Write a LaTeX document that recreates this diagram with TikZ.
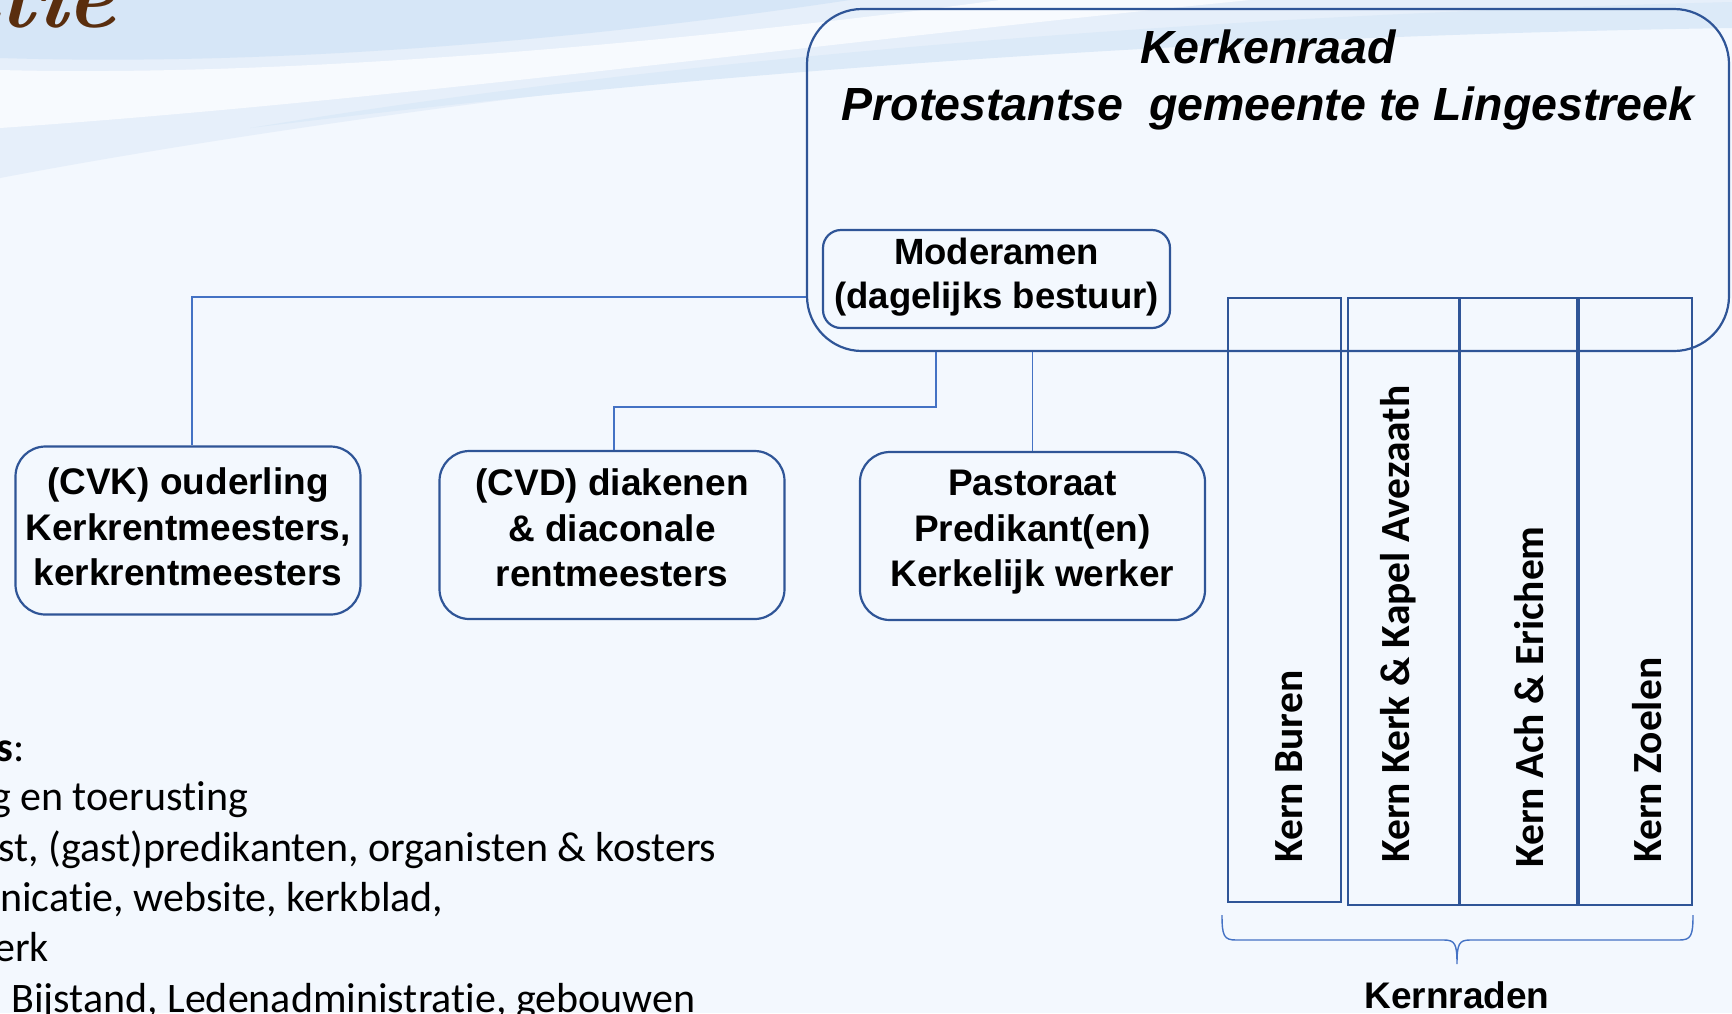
\documentclass[tikz,border=0pt]{standalone}
\usepackage{fontspec}
\newfontfamily\arialfont{Liberation Sans}
\newfontfamily\carlito[Ligatures=NoCommon]{Carlito}
\usepackage{tikz}
\usetikzlibrary{positioning}
\definecolor{randblauw}{HTML}{2F5597}
\definecolor{lijnblauw}{HTML}{4472C4}
\definecolor{achtergrond}{HTML}{F3F8FE}
\definecolor{golflicht}{HTML}{E6EFFA}
\definecolor{golfblauw}{HTML}{D6E6F7}
\definecolor{titelbruin}{HTML}{5A2E0E}

\tikzset{
  orgbox/.style={draw=randblauw, line width=2.2pt, rounded corners=30pt, inner sep=0pt,
    minimum width=345pt, minimum height=168pt},
  orgtekst/.style={align=center, inner sep=0pt, font=\arialfont\bfseries\fontsize{37}{45.5}\selectfont},
  kernbox/.style={draw=randblauw, line width=2.2pt, anchor=north west, inner sep=0pt},
  kerntekst/.style={rotate=90, anchor=west, inner sep=0pt, text height=27pt, text depth=0pt,
    font=\carlito\bfseries\fontsize{41.5}{50}\selectfont},
  lijn/.style={draw=lijnblauw, line width=1.4pt},
  regel/.style={anchor=base west, inner sep=0pt, font=\carlito\fontsize{42}{50}\selectfont}
}

\begin{document}
\begin{tikzpicture}[x=1pt,y=-1pt]
\clip (0,0) rectangle (1732,1013);
\fill[achtergrond] (0,0) rectangle (1732,1013);
% golven bovenin
\fill[golflicht] (0,0) -- (0,178) .. controls (200,140) and (500,95) .. (900,55)
  .. controls (1250,25) and (1550,18) .. (1732,12) -- (1732,0) -- cycle;
\fill[achtergrond!70!white] (0,70) .. controls (300,78) and (700,40) .. (1000,0) -- (1250,0)
  .. controls (800,45) and (400,100) .. (0,128) -- cycle;
\fill[golfblauw] (0,0) -- (0,58) .. controls (250,66) and (550,45) .. (850,0) -- cycle;
\fill[golfblauw!80!achtergrond] (250,128) .. controls (600,85) and (1100,38) .. (1732,28)
  -- (1732,2) .. controls (1100,18) and (600,70) .. (250,128) -- cycle;
\node[anchor=base east, inner sep=0pt, text=titelbruin, font=\fontsize{92}{92}\selectfont\bfseries\itshape] (titelstuk) at (116,27) {atie};

% kerkenraad
\node[draw=randblauw, line width=2.2pt, rounded corners=55pt, minimum width=922pt, minimum height=342pt] (kerkenraad) at (1268,180) {};
\node[align=center, inner sep=0pt, font=\arialfont\bfseries\itshape\fontsize{46.5}{57}\selectfont, below=22pt of kerkenraad.north] (titel) {Kerkenraad\\Protestantse\ \ gemeente te Lingestreek};
\node[orgbox, rounded corners=18pt, minimum width=347pt, minimum height=98pt] (moderamen) at (996.5,279) {};
\node[orgtekst, font=\arialfont\bfseries\fontsize{36.5}{44}\selectfont] (moderamentekst) at ([yshift=2pt]moderamen.center) {Moderamen\\(dagelijks bestuur)};

% commissies
\node[orgbox] (cvk) at (188,530.5) {};
\node[orgbox] (cvd) at (612,535) {};
\node[orgbox] (pastoraat) at (1032.5,536) {};
\node[orgtekst] (cvktekst) at ([yshift=3.5pt]cvk.center) {(CVK) ouderling\\Kerkrentmeesters,\\kerkrentmeesters};
\node[orgtekst] (cvdtekst) at ([yshift=7pt]cvd.center) {(CVD) diakenen\\\& diaconale\\rentmeesters};
\node[orgtekst] (pastoraattekst) at ([yshift=3.5pt]pastoraat.center) {Pastoraat\\Predikant(en)\\Kerkelijk werker};

% kernen
\node[kernbox, minimum width=113pt, minimum height=604pt] (kern1) at (1227,297) {};
\node[kernbox, minimum width=111pt, minimum height=607pt] (kern2) at (1347,297) {};
\node[kernbox, minimum width=117pt, minimum height=607pt] (kern3) at (1459,297) {};
\node[kernbox, minimum width=113pt, minimum height=607pt] (kern4) at (1578,297) {};
\node[kerntekst] (buren) at (1288.5,863) {Kern Buren};
\node[kerntekst] (avezaath) at (1396,863) {Kern Kerk \& Kapel Avezaath};
\node[kerntekst] (erichem) at (1530,868) {Kern Ach \& Erichem};
\node[kerntekst] (zoelen) at (1648,863) {Kern Zoelen};

% verbindingen
\coordinate (splitsing) at (936,407);
\draw[lijn] (kerkenraad.west |- kern1.north) -| ([xshift=4pt]cvk.north);
\draw[lijn] (splitsing |- kerkenraad.south) -- (splitsing) -| ([xshift=2pt]cvd.north);
\draw[lijn] (pastoraat.north) -- (pastoraat.north |- kerkenraad.south);

% accolade
\draw[lijn] (1222,915) .. controls (1222,936) and (1224,940) .. (1236,940) -- (1444,940)
  .. controls (1455,940) and (1457,944) .. (1457,964)
  .. controls (1457,944) and (1459,940) .. (1470,940) -- (1679,940)
  .. controls (1691,940) and (1693,936) .. (1693,915);
\node[anchor=base, inner sep=0pt, font=\arialfont\bfseries\fontsize{37}{45}\selectfont] (kernraden) at (1457,1008) {Kernraden};

% taken
\node[regel] (regel1) at (-3.5,761) {\textbf{s}:};
\node[regel] (regel2) at (-9,810) {g en toerusting};
\node[regel] (regel3) at (-2,861) {st, (gast)predikanten, organisten \& kosters};
\node[regel] (regel4) at (0,911) {nicatie, website, kerkblad,};
\node[regel] (regel5) at (-6,961) {erk};
\node[regel] (regel6) at (11,1012) {Bijstand, Ledenadministratie, gebouwen};
\end{tikzpicture}
\end{document}
